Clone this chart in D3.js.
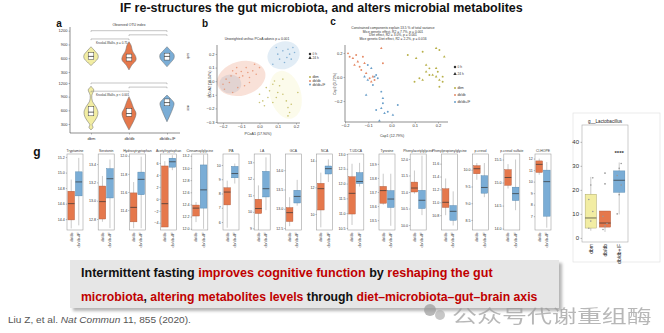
<!DOCTYPE html>
<html><head><meta charset="utf-8">
<script src="https://cdn.jsdelivr.net/npm/d3@7"></script>
<style>body{margin:0;background:#fff;} svg{display:block;font-family:Arial,"Liberation Sans",sans-serif;}</style>
</head><body><script>
// ---------------- DATA ----------------
const title = "IF re-structures the gut microbiota, and alters microbial metabolites";
const groups = ["dbm","db/db","db/db+IF"];
const fillC = {"dbm":"#f2eda3","db/db":"#e5784c","db/db+IF":"#7aadd6"};
const strokeC = {"dbm":"#9c9660","db/db":"#a9563a","db/db+IF":"#4c80aa"};

// panel a (alpha diversity violins)
const alphaTicks = [300,600,900,1200];
const sobViolins = [
 [[440,0],[520,0.55],[600,1],[670,1],[750,0.6],[850,0]],
 [[345,0],[450,0.4],[560,1],[640,0.95],[760,0.5],[880,0.3],[960,0]],
 [[415,0],[510,0.55],[600,1],[680,1],[760,0.55],[850,0]]
];
const sobBoxes = [[570,640,720],[540,610,690],[560,640,710]];
const aceViolins = [
 [[170,0],[230,0.3],[280,0.15],[330,0.35],[450,0.85],[560,1],[680,0.7],[800,0.2],[930,0.12],[1000,0.3],[1050,0.4],[1100,0.15],[1130,0]],
 [[170,0],[300,0.45],[450,0.9],[540,1],[650,0.65],[780,0.35],[900,0]],
 [[350,0],[500,0.45],[650,0.85],[760,1],[850,0.55],[935,0]]
];
const aceBoxes = [[480,560,680],[470,530,640],[700,770,850]];
const brackets = [[0,2,1200],[1,2,1110],[0,1,1020]];

// panel b (PCoA)
const bTicksX = [-0.2,-0.1,0,0.1,0.2];
const bTicksY = [-0.3,-0.2,-0.1,0,0.1,0.2];
const bPts = {
 "dbm": [[0,-0.096],[0.018,-0.145],[0.037,-0.047],[0.055,-0.071],[0.073,-0.022],[0.082,0.002],[0.092,-0.12],[0.1,-0.083],[0.11,-0.034],[0.128,0.015],[0.147,-0.145],[0.156,-0.194],[0.165,-0.23],[0.156,-0.255],[0.174,-0.169],[0.128,-0.096],[0.027,-0.181],[0,-0.157],[0.21,-0.083],[0.073,-0.157],[0.046,-0.12]],
 "db/db": [[-0.2,-0.022],[-0.183,0.015],[-0.165,-0.01],[-0.156,0.039],[-0.147,0.076],[-0.128,0.056],[-0.125,0.1],[-0.11,0.027],[-0.1,0.071],[-0.092,0.039],[-0.073,0.1],[-0.064,0.064],[-0.055,0.027],[-0.037,0.076],[-0.027,0.125],[-0.018,0.051],[0,0.1],[-0.147,-0.083],[-0.119,-0.047],[-0.082,-0.034],[-0.192,-0.059],[-0.055,-0.01]],
 "db/db+IF": [[0.073,0.125],[0.1,0.199],[0.128,0.223],[0.15,0.174],[0.165,0.199],[0.183,0.248],[0.192,0.211],[0.11,0.162],[0.137,0.137],[0.174,0.162],[0.156,0.235],[0.092,0.248]]
};
const bEllipses = [
 {g:"db/db+IF", cx:-0.16, cy:-0.02, rx:0.06, ry:0.07, a:0},
 {g:"db/db", cx:-0.1, cy:0.02, rx:0.135, ry:0.125, a:-15},
 {g:"db/db+IF", cx:0.132, cy:0.19, rx:0.09, ry:0.1, a:-20},
 {g:"dbm", cx:0.143, cy:-0.1, rx:0.085, ry:0.18, a:-15}
];

// panel c (CAP)
const cTicksX = [-0.2,-0.1,0,0.1,0.2];
const cTicksY = [-0.2,0,0.2];
const cPts = {
 "db/db": [[-0.187,0.197],[-0.166,0.156],[-0.152,0.183],[-0.145,0.128],[-0.123,0.169],[-0.159,0.1],[-0.137,0.086],[-0.116,0.114],[-0.13,0.058],[-0.109,0.031],[-0.094,-0.011],[-0.087,-0.039],[-0.073,-0.025],[-0.044,0.239],[-0.037,0.114],[-0.08,0.003],[-0.18,0.169]],
 "db/db+IF": [[-0.102,0.1],[-0.087,0.072],[-0.066,0.017],[-0.116,0.003],[-0.08,-0.067],[-0.102,-0.025],[-0.059,-0.011],[-0.109,-0.15],[-0.044,-0.122],[-0.037,-0.178],[-0.037,-0.219],[-0.044,-0.261],[-0.066,-0.275],[-0.03,-0.303],[-0.016,-0.289],[0.006,-0.317],[0.027,-0.233],[-0.052,-0.365],[-0.073,0.003]],
 "dbm": [[0.07,0.183],[0.106,0.156],[0.134,0.211],[0.149,0.044],[0.163,0.072],[0.192,0.239],[0.206,0.225],[0.177,0.017],[0.163,0.017],[0.192,0.003],[0.199,0.044],[0.206,-0.025],[0.22,-0.039],[0.227,0.169],[0.12,-0.011],[0.134,-0.025],[0.206,-0.081],[0.192,0.072],[0.22,0.003],[0.149,0.1],[0.099,-0.039]]
};
const cTitle = ["Constrained components explain 13.5 % of total variance","Mice genetic effect, R2 = 7.7%, p = 0.001","Diet effect, R2 = 3.0%, p = 0.001","Mice genetic:Diet effect, R2 = 2.2%, p = 0.016"];

// panel g (metabolites) stats = [whiskerLow, q1, median, q3, whiskerHigh]
const metabolites = ["Tryptamine","Serotonin","Hydroxytryptophan","Acetyltryptophan","Cinnamoylglycine","IPA","LA","GCA","NCA","T-UDCA","Tyrosine","Phenylacetylglycine","Phenylpropionylglycine","p-cresol","p-cresol sulfate","Cl-HOPE"];
const metDomain = [[14.26,15.24],[12.68,13.51],[11.18,12.02],[-5.2,7.5],[11.98,13.23],[5.44,10.77],[8.9,13.5],[12.45,14.42],[8.8,14.5],[10.43,13.0],[13.43,13.97],[9.85,12.15],[10.57,11.75],[8.2,10.47],[13.97,15.62],[5.8,12.4]];
const metTicks = [[14.4,14.6,14.8,15.0,15.2],[12.8,13.0,13.2,13.4],[11.4,11.6,11.8,12.0],[-4,-2,0,2,4,6],[12.0,12.2,12.4,12.6,12.8,13.0,13.2],[6,7,8,9,10],[9,10,11,12,13],[12.5,13.0,13.5,14.0],[10,12,14],[10.5,11.0,11.5,12.0,12.5,13.0],[13.5,13.6,13.7,13.8,13.9],[10.0,10.5,11.0,11.5,12.0],[10.8,11.0,11.2,11.4,11.6],[8.5,9.0,9.5,10.0],[14.0,14.5,15.0,15.5],[7,8,9,10,11,12]];
const metDec = [1,1,1,0,1,0,0,1,0,1,1,1,1,1,1,0];
const dbdbStats = [[14.28,14.39,14.6,14.76,14.91],[12.77,12.8,12.99,13.16,13.27],[11.2,11.27,11.43,11.59,11.71],[-4.7,-4.7,-0.8,5.5,6.3],[12.11,12.21,12.34,12.39,12.44],[5.6,7.2,8.1,8.4,8.9],[8.9,9.9,10.2,10.76,11.6],[12.55,12.67,12.9,13.03,13.3],[9.0,10.3,11.9,12.3,13.1],[10.6,10.97,11.67,12.23,12.67],[13.61,13.62,13.71,13.74,13.83],[10.95,11.0,11.12,11.3,11.65],[10.8,10.92,11.0,11.21,11.37],[9.7,9.88,10.03,10.12,10.2],[14.87,14.94,15.11,15.28,15.4],[10.6,10.8,11.5,11.8,12.0]];
const ifStats = [[14.32,14.7,14.88,15.01,15.19],[12.7,13.03,13.24,13.35,13.45],[11.2,11.57,11.74,11.82,11.99],[4.8,5.3,6.2,6.8,7.3],[12.0,12.34,12.64,13.05,13.22],[8.7,9.1,9.4,9.9,10.1],[10.1,10.9,11.4,12.45,13.3],[13.08,13.15,13.32,13.48,13.75],[12.4,13.0,13.4,13.6,14.1],[11.9,12.0,12.07,12.37,12.7],[13.46,13.59,13.65,13.71,13.83],[10.3,10.5,10.75,11.05,12.1],[10.64,10.72,10.86,10.95,11.17],[9.18,9.3,9.47,9.82,10.2],[14.4,14.61,14.76,14.9,15.5],[6.0,7.0,10.0,11.0,11.7]];

// panel f (Lactobacillus)
const lactoTicks = [0,10,20,30,40];
const lactoStats = [[3,4.1,8.3,18.2,25.4],[2.5,4.5,6.2,11.2,11.2],[9.8,19,24,27.9,31.4]];
const lactoOutliers = [[],[22.5,27],[]];
const lactoPoints = [[4,7,11,16,22,25],[3.5,5,6,9],[10,18,22,26,29,31]];

// texts
const line1 = [["Intermittent fasting ","#111"],["improves cognitive function","#c00000"],[" by ","#111"],["reshaping the gut","#c00000"]];
const line2 = [["microbiota","#c00000"],[", ","#111"],["altering metabolites levels","#c00000"],[" through ","#111"],["diet–microbiota–gut–brain axis","#c00000"]];

// ---------------- DRAW ----------------
const svg = d3.select("body").append("svg").attr("width",664).attr("height",333);
svg.append("rect").attr("width",664).attr("height",333).attr("fill","#fff");
const defs = svg.append("defs");
defs.append("filter").attr("id","blur").append("feGaussianBlur").attr("stdDeviation",1.6);

function fitX(sel, x0, w){
  const n = sel.node().getComputedTextLength();
  sel.attr("transform",`translate(${x0},0) scale(${w/n},1) translate(${-x0},0)`);
}
function txt(g,x,y,s,size,opt={}){
  const t = g.append("text").attr("x",x).attr("y",y).text(s).attr("font-size",size)
    .attr("fill",opt.fill||"#333").attr("text-anchor",opt.anchor||"middle");
  if(opt.weight) t.attr("font-weight",opt.weight);
  if(opt.rot!==undefined) t.attr("transform",`rotate(${opt.rot},${x},${y})`);
  return t;
}
function styleAxis(g){
  g.selectAll("text").attr("font-size",4).attr("fill","#333");
  g.selectAll("line").attr("stroke","#555").attr("stroke-width",0.4);
  g.select(".domain").attr("stroke","#444").attr("stroke-width",0.6);
}

// title
const tt = txt(svg,120,12.5,title,13.5,{anchor:"start",weight:"bold",fill:"#111"});
fitX(tt,120,403);

// ---- panel a
txt(svg,59,27,"a",10,{weight:"bold",fill:"#111"});
const xA = d3.scalePoint().domain(groups).range([91,167]);
const ySob = d3.scaleLinear().domain([300,1200]).range([72,30.7]);
const yAce = d3.scaleLinear().domain([300,1200]).range([124,83]);
const wA = d3.scaleLinear().domain([0,1]).range([0,7]);
const gA = svg.append("g");
[[ySob,sobViolins,sobBoxes,"sob"],[yAce,aceViolins,aceBoxes,"ace"]].forEach(([ys,vi,bx,lab])=>{
  const ax = gA.append("g").attr("transform","translate(70,0)").call(d3.axisLeft(ys).tickValues(alphaTicks).tickSize(1.5).tickPadding(1).tickFormat(d3.format("d")));
  styleAxis(ax); ax.select(".domain").remove();
  groups.forEach((g,i)=>{
    const cx = xA(g);
    const area = d3.area().y(d=>ys(d[0])).x0(d=>cx-wA(d[1])).x1(d=>cx+wA(d[1])).curve(d3.curveCatmullRom);
    gA.append("path").attr("d",area(vi[i])).attr("fill",fillC[g]).attr("stroke","#666").attr("stroke-width",0.5);
    const b = bx[i];
    gA.append("rect").attr("x",cx-2.8).attr("width",5.6).attr("y",ys(b[2])).attr("height",ys(b[0])-ys(b[2]))
      .attr("fill","#fff").attr("stroke","#333").attr("stroke-width",0.45);
    gA.append("line").attr("x1",cx-2.8).attr("x2",cx+2.8).attr("y1",ys(b[1])).attr("y2",ys(b[1])).attr("stroke","#222").attr("stroke-width",0.7);
  });
  brackets.forEach(([a,b,v])=>{
    const y = ys(v);
    gA.append("path").attr("d",`M${xA(groups[a])},${y+1.2}V${y}H${xA(groups[b])}V${y+1.2}`).attr("fill","none").attr("stroke","#888").attr("stroke-width",0.5);
  });
  txt(gA,xA("dbm")+5,ys(935)+1,lab==="sob"?"Kruskal-Wallis, p = 0.75":"Kruskal-Wallis, p < 0.001",3,{anchor:"start"});
  txt(gA,187,ys(650),lab,3.5,{rot:90});
});
txt(gA,xA("db/db"),ySob(1300),"Observed OTU index",3.5);
gA.append("line").attr("x1",70).attr("x2",70).attr("y1",27).attr("y2",133).attr("stroke","#444").attr("stroke-width",0.6);
const axA = gA.append("g").attr("transform","translate(0,133)").call(d3.axisBottom(xA).tickSize(1.5).tickPadding(3));
styleAxis(axA); axA.select(".domain").attr("d","M70,0H180");

// ---- panel b
txt(svg,205,27,"b",10,{weight:"bold",fill:"#111"});
const gB = svg.append("g");
const xB = d3.scaleLinear().domain([-0.2,0.2]).range([223,296]);
const yB = d3.scaleLinear().domain([-0.3,0.2]).range([122,54]);
bEllipses.forEach(e=>{
  const cx=xB(e.cx), cy=yB(e.cy);
  gB.append("ellipse").attr("cx",cx).attr("cy",cy).attr("rx",xB(e.rx)-xB(0)).attr("ry",yB(0)-yB(e.ry))
    .attr("transform",`rotate(${e.a},${cx},${cy})`).attr("fill",fillC[e.g]).attr("fill-opacity",0.22).attr("stroke","none");
});
const ptCol = {"dbm":"#b8b04a","db/db":"#e58a66","db/db+IF":"#6a9fca"};
groups.forEach(g=>{
  gB.selectAll(null).data(bPts[g]).enter().append("circle").attr("cx",d=>xB(d[0])).attr("cy",d=>yB(d[1])).attr("r",0.8)
    .attr("fill",ptCol[g]).attr("fill-opacity",0.75);
});
const axBx = gB.append("g").attr("transform","translate(0,123)").call(d3.axisBottom(xB).tickValues(bTicksX).tickSize(1.5).tickPadding(1).tickFormat(d3.format(".1f")));
styleAxis(axBx); axBx.select(".domain").attr("d","M217,0H300");
const axBy = gB.append("g").attr("transform","translate(217,0)").call(d3.axisLeft(yB).tickValues(bTicksY).tickSize(1.5).tickPadding(1).tickFormat(d3.format(".1f")));
styleAxis(axBy); axBy.select(".domain").attr("d","M0,45V123");
txt(gB,257,40,"Unweighted unifrac PCoA  adonis p = 0.001",3.4);
txt(gB,258,135,"PCoA1 (17.90%)",3.6);
txt(gB,211,84,"PCoA2 (10.04%)",3.6,{rot:-90});

// legends b & c
function legend(g,x,yShape,yCol){
  g.append("path").attr("d",d3.symbol(d3.symbolCircle,5)()).attr("transform",`translate(${x},${yShape[0]})`).attr("fill","#333");
  g.append("path").attr("d",d3.symbol(d3.symbolTriangle,5)()).attr("transform",`translate(${x},${yShape[1]})`).attr("fill","#333");
  txt(g,x+2.5,yShape[0]+1.2,"0 h",3.2,{anchor:"start"});
  txt(g,x+2.5,yShape[1]+1.2,"24 h",3.2,{anchor:"start"});
  groups.forEach((gr,i)=>{
    g.append("circle").attr("cx",x).attr("cy",yCol[i]).attr("r",1).attr("fill",ptCol[gr]);
    txt(g,x+2.5,yCol[i]+1.2,gr,3.2,{anchor:"start"});
  });
}
legend(gB,310,[54,58],[77,81,84.5]);

// ---- panel c
txt(svg,333,25,"c",10,{weight:"bold",fill:"#111"});
const gC = svg.append("g");
const xC = d3.scaleLinear().domain([-0.2,0.2]).range([345,438]);
const yC = d3.scaleLinear().domain([-0.2,0.2]).range([101,53]);
groups.forEach(g=>{
  gC.selectAll(null).data(cPts[g]).enter().append("path")
    .attr("d",(d,i)=>d3.symbol(i%2?d3.symbolTriangle:d3.symbolCircle,3)())
    .attr("transform",d=>`translate(${xC(d[0])},${yC(d[1])})`).attr("fill",ptCol[g]);
});
const axCx = gC.append("g").attr("transform","translate(0,122)").call(d3.axisBottom(xC).tickValues(cTicksX).tickSize(1.5).tickPadding(1).tickFormat(d3.format(".1f")));
styleAxis(axCx); axCx.select(".domain").attr("d","M345,0H448");
const axCy = gC.append("g").attr("transform","translate(345,0)").call(d3.axisLeft(yC).tickValues(cTicksY).tickSize(1.5).tickPadding(1).tickFormat(d3.format(".1f")));
styleAxis(axCy); axCy.select(".domain").attr("d","M0,45V122");
cTitle.forEach((s,i)=>txt(gC,393,29+i*3.7,s,3.3));
txt(gC,392,137,"Cap1 (12.79%)",3.6);
txt(gC,336,84,"Cap2 (3.72%)",3.6,{rot:-90});
legend(gC,455,[67,74],[88,95,102]);

// ---- panel g
txt(svg,37,156,"g",12,{weight:"bold",fill:"#111"});
const gG = svg.append("g");
const gTop=154, gBot=230, gW=16;
const xPanel = d3.scaleLinear().domain([0,metabolites.length-1]).range([67,535]);
function drawBox(g,cx,w,y,s,fill,stroke){
  g.append("line").attr("x1",cx).attr("x2",cx).attr("y1",y(s[0])).attr("y2",y(s[4])).attr("stroke","#888").attr("stroke-width",0.45);
  g.append("rect").attr("x",cx-w/2).attr("width",w).attr("y",y(s[3])).attr("height",Math.max(0.5,y(s[1])-y(s[3])))
    .attr("fill",fill).attr("stroke",stroke).attr("stroke-width",0.4);
  g.append("line").attr("x1",cx-w/2).attr("x2",cx+w/2).attr("y1",y(s[2])).attr("y2",y(s[2])).attr("stroke","#333").attr("stroke-width",0.7);
}
metabolites.forEach((name,i)=>{
  const L = xPanel(i);
  const y = d3.scaleLinear().domain(metDomain[i]).range([gBot,gTop]);
  const xb = d3.scaleBand().domain(["db/db","db/db+IF"]).range([L,L+gW]).paddingInner(0.12).paddingOuter(0.12);
  const g = gG.append("g");
  g.append("rect").attr("x",L).attr("y",gTop).attr("width",gW).attr("height",gBot-gTop).attr("fill","none").attr("stroke","#a0a0a0").attr("stroke-width",0.6);
  const ax = g.append("g").attr("transform",`translate(${L},0)`).call(d3.axisLeft(y).tickValues(metTicks[i]).tickSize(1.2).tickPadding(1).tickFormat(d3.format(metDec[i]?".1f":"d")));
  styleAxis(ax); ax.select(".domain").remove(); ax.selectAll("text").attr("font-size",3.6);
  drawBox(g,xb("db/db")+xb.bandwidth()/2,xb.bandwidth(),y,dbdbStats[i],fillC["db/db"],strokeC["db/db"]);
  drawBox(g,xb("db/db+IF")+xb.bandwidth()/2,xb.bandwidth(),y,ifStats[i],fillC["db/db+IF"],strokeC["db/db+IF"]);
  txt(g,L+gW/2,gTop-2.5,name,3.4);
  ["db/db","db/db+IF"].forEach(k=>{
    const cx = xb(k)+xb.bandwidth()/2+1.3;
    txt(g,cx,gBot+2.5,k,3.8,{anchor:"end",rot:-90,fill:"#222"});
  });
});

// ---- panel f (Lactobacillus)
const gF = svg.append("g");
gF.append("rect").attr("x",573).attr("y",113).attr("width",87).attr("height",149).attr("fill","#fff").attr("stroke","#e2e2e2").attr("stroke-width",0.7);
const yF = d3.scaleLinear().domain([-1.7,47]).range([242,125]);
const xF = d3.scaleBand().domain(groups).range([583,627]).paddingInner(0.2).paddingOuter(0.15);
gF.append("rect").attr("x",582).attr("y",125).attr("width",46).attr("height",117).attr("fill","none").attr("stroke","#aaa").attr("stroke-width",0.6);
const axF = gF.append("g").attr("transform","translate(582,0)").call(d3.axisLeft(yF).tickValues(lactoTicks).tickSize(1.5).tickPadding(1.5));
styleAxis(axF); axF.select(".domain").remove(); axF.selectAll("text").attr("font-size",6);
groups.forEach((g,i)=>{
  const cx = xF(g)+xF.bandwidth()/2;
  drawBox(gF,cx,xF.bandwidth(),yF,lactoStats[i],fillC[g],strokeC[g]);
  lactoPoints[i].forEach((v,j)=>gF.append("circle").attr("cx",cx+((j%3)-1)*2).attr("cy",yF(v)).attr("r",0.8).attr("fill","#999"));
  lactoOutliers[i].forEach(v=>gF.append("circle").attr("cx",cx).attr("cy",yF(v)).attr("r",0.9).attr("fill","#999"));
  txt(gF,cx+1.8,244,g,5,{anchor:"end",rot:-90,fill:"#222"});
});
txt(gF,605,123,"g__Lactobacillus",4.6,{fill:"#222"});
txt(gF,xF("db/db+IF")+xF.bandwidth()/2,yF(34.5),"****",6,{fill:"#333",weight:"bold"});

// ---- text box
const gT = svg.append("g");
gT.append("rect").attr("x",73).attr("y",263).attr("width",489).attr("height",48).attr("fill","#b5b5b5").attr("filter","url(#blur)");
gT.append("rect").attr("x",70).attr("y",260).attr("width",489).attr("height",48).attr("fill","#e6e6e6");
[[line1,277.5,412],[line2,301,457]].forEach(([parts,yy,w])=>{
  const t = gT.append("text").attr("x",81).attr("y",yy).attr("font-size",13.5).attr("font-weight","bold");
  parts.forEach(([s,c])=>t.append("tspan").text(s).attr("fill",c));
  fitX(t,81,w);
});
const cit = svg.append("text").attr("x",8).attr("y",323).attr("font-size",9).attr("fill","#555");
cit.append("tspan").text("Liu Z, et al. ");
cit.append("tspan").text("Nat Commun").attr("font-style","italic");
cit.append("tspan").text(" 11, 855 (2020).");
fitX(cit,8,183);

// watermark
const gW2 = svg.append("g").attr("opacity",0.7);
gW2.append("circle").attr("cx",430).attr("cy",310).attr("r",6).attr("fill","#9a9a9a");
gW2.append("circle").attr("cx",440).attr("cy",315).attr("r",5).attr("fill","#b0b0b0");
const wm = gW2.append("text").attr("x",452).attr("y",323).attr("font-size",18).attr("fill","#9a9a9a")
  .attr("font-family","'Noto Sans CJK SC',sans-serif").text("公众号代谢重组酶");
fitX(wm,452,200);
</script></body></html>
